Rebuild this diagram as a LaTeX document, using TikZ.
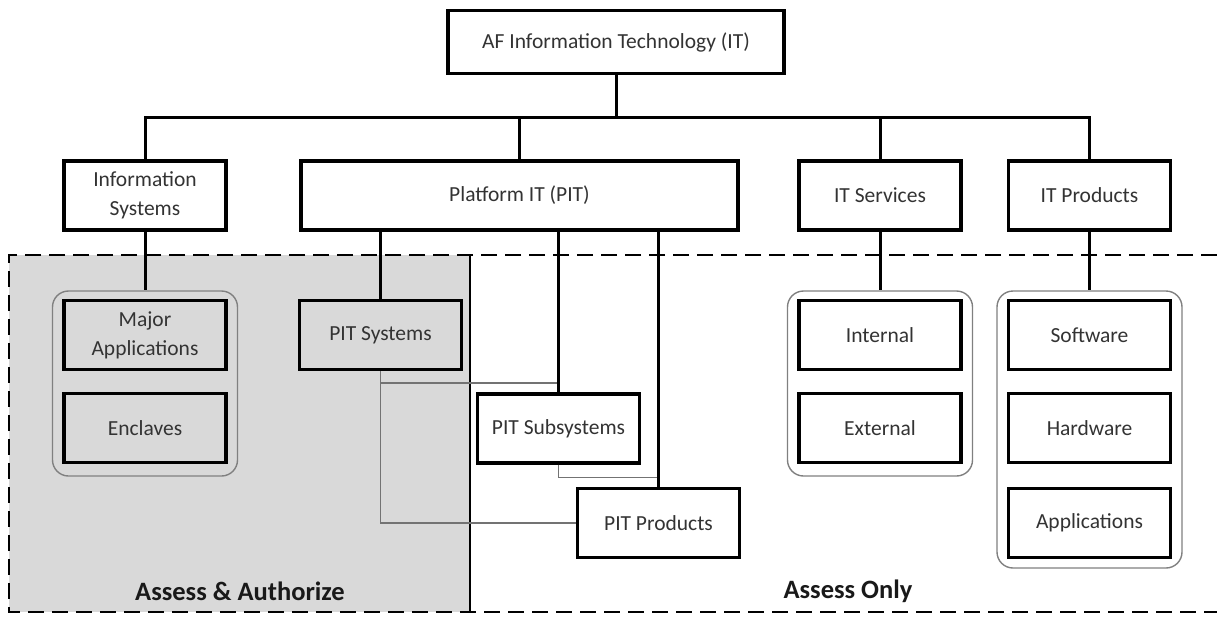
\documentclass[tikz,border=0pt]{standalone}
\usepackage{fontspec}
\setmainfont{Carlito}
\usepackage{tikz}
\usetikzlibrary{
    calc,
    positioning
}
\definecolor{aagray}{HTML}{D9D9D9}
\tikzset{itbox/.style={draw=black, line width=3.2pt, fill=white, minimum width=162pt, minimum height=69pt, inner sep=0pt, align=center, text=black!80, font=\fontsize{21.5}{29}\selectfont}}
\tikzset{grp/.style={draw=black!50, line width=1.4pt, fill=white, rounded corners=16pt, minimum width=185pt, minimum height=185pt}}
\tikzset{conn/.style={line width=3pt}}
\tikzset{link/.style={line width=1.3pt, draw=black!55}}
\tikzset{zone/.style={line width=2.6pt, dash pattern=on 16pt off 8pt}}
\tikzset{zonelbl/.style={font=\fontsize{26.5}{30}\selectfont\bfseries, text=black!90}}

\begin{document}
\begin{tikzpicture}[x=1pt, y=-1pt]
    \useasboundingbox (0, 0) rectangle (1217, 616);
    % zones
    \fill[aagray] (9, 255) rectangle (470, 612);
    \draw[zone] (1217, 255) -- (9, 255) -- (9, 612) -- (1217, 612);
    \draw[line width=2.2pt] (470, 255) -- (470, 612);
    \node[zonelbl] (aalbl) at (240, 591) {Assess \& Authorize};
    \node[zonelbl] (aolbl) at (848, 591) {Assess Only};

    % top levels
    \node[itbox, minimum width=336pt, minimum height=63pt] (afit) at (616, 42) {AF Information Technology (IT)};
    \node[itbox] (infosys) at (145, 195.5) {Information\\Systems};
    \node[itbox, minimum width=437pt] (pit) at (519.5, 195.5) {Platform IT (PIT)};
    \node[itbox] (itserv) at (880, 195.5) {IT Services};
    \node[itbox] (itprod) at (1089.5, 195.5) {IT Products};
    \coordinate (bus) at (616, 117);
    \draw[conn] (afit) -- (bus);
    \foreach \n in {infosys, pit, itserv, itprod}
        \draw[conn] (bus) -| (\n);

    % information systems
    \node[grp, fill=aagray] (isgrp) at (145, 383.5) {};
    \node[itbox, fill=aagray] (major) at (145, 335) {Major\\Applications};
    \node[itbox, fill=aagray] (enclaves) at (145, 428) {Enclaves};
    \draw[conn] (infosys) -- (isgrp);

    % platform IT
    \node[itbox, fill=aagray] (pitsys) at (380.5, 335) {PIT Systems};
    \node[itbox] (pitsub) at (558.5, 428.5) {PIT Subsystems};
    \node[itbox] (pitprod) at (658.5, 523) {PIT Products};
    \coordinate (tap) at ($(pitsys.south)+(0, 12)$);
    \draw[link] (pitsys.south) -- (pitsys.south |- pitprod.west) -- (pitprod.west);
    \draw[link] (tap) -- (tap -| pitsub);
    \draw[link] (pitsub.south) -- ++(0, 13) -| (pitprod.north);
    \foreach \n in {pitsys, pitsub, pitprod}
        \draw[conn] (\n |- pit.south) -- (\n);

    % IT services
    \node[grp] (svcgrp) at (880, 383.5) {};
    \node[itbox] (internal) at (880, 335) {Internal};
    \node[itbox] (external) at (880, 428) {External};
    \draw[conn] (itserv) -- (svcgrp);

    % IT products
    \node[grp, minimum height=277pt] (prodgrp) at (1089.5, 429.5) {};
    \node[itbox] (software) at (1089.5, 335) {Software};
    \node[itbox] (hardware) at (1089.5, 428) {Hardware};
    \node[itbox] (apps) at (1089.5, 523) {Applications};
    \draw[conn] (itprod) -- (prodgrp);
\end{tikzpicture}
\end{document}
